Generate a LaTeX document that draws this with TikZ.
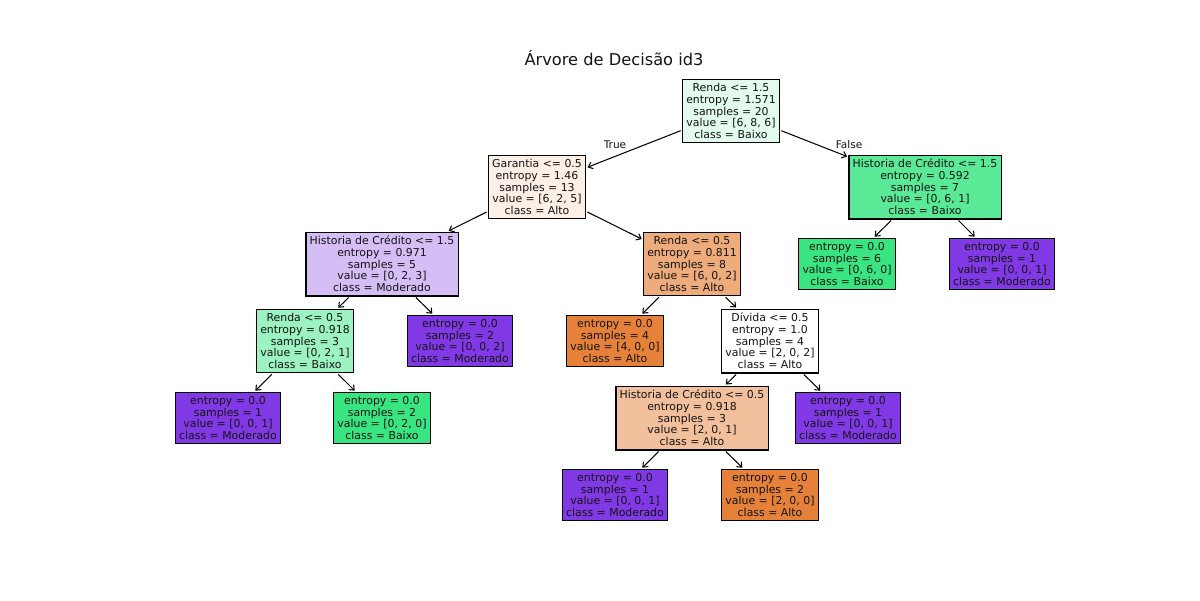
\documentclass[tikz,border=0pt]{standalone}
\usepackage{fontspec}
\setmainfont{DejaVu Sans}
\usetikzlibrary{arrows.meta}
\definecolor{cAlto}{RGB}{229,129,57}
\definecolor{cBaixo}{RGB}{57,229,129}
\definecolor{cMod}{RGB}{129,57,229}
\definecolor{cRoot}{RGB}{227,251,237}
\definecolor{cGar}{RGB}{252,239,230}
\definecolor{cHistL}{RGB}{213,189,246}
\definecolor{cRendaO}{RGB}{238,171,123}
\definecolor{cHistR}{RGB}{90,233,150}
\definecolor{cRendaG}{RGB}{156,242,192}
\definecolor{cHistO}{RGB}{242,192,156}
\definecolor{txt}{RGB}{20,20,20}
\tikzset{
  tnode/.style={draw=black, line width=0.8pt, align=center, inner xsep=2.7pt, inner ysep=3.0pt,
    font=\fontsize{7.85}{8.4}\selectfont, text=txt},
  edge/.style={line width=0.75pt, -{Straight Barb[length=3pt,width=5pt]}, shorten >=1pt, shorten <=1pt},
  elabel/.style={font=\fontsize{7.6}{8.4}\selectfont, text=txt}
}
\begin{document}
\begin{tikzpicture}[x=0.72pt,y=-0.72pt]
\useasboundingbox (0,0) rectangle (1200,600);
\node[font=\fontsize{11.7}{14}\selectfont, text=txt] (title) at (614,58) {Árvore de Decisão id3};

\node[tnode, fill=cRoot] (root) at (731,111) {Renda <= 1.5\\entropy = 1.571\\samples = 20\\value = [6, 8, 6]\\class = Baixo};
\node[tnode, fill=cGar] (gar) at (537,187) {Garantia <= 0.5\\entropy = 1.46\\samples = 13\\value = [6, 2, 5]\\class = Alto};
\node[tnode, fill=cHistR] (histr) at (925,187) {Historia de Crédito <= 1.5\\entropy = 0.592\\samples = 7\\value = [0, 6, 1]\\class = Baixo};
\node[tnode, fill=cHistL] (histl) at (382,264) {Historia de Crédito <= 1.5\\entropy = 0.971\\samples = 5\\value = [0, 2, 3]\\class = Moderado};
\node[tnode, fill=cRendaO] (rendao) at (692,264) {Renda <= 0.5\\entropy = 0.811\\samples = 8\\value = [6, 0, 2]\\class = Alto};
\node[tnode, fill=cBaixo] (lb6) at (847,264) {entropy = 0.0\\samples = 6\\value = [0, 6, 0]\\class = Baixo};
\node[tnode, fill=cMod] (lm1a) at (1002,264) {entropy = 0.0\\samples = 1\\value = [0, 0, 1]\\class = Moderado};
\node[tnode, fill=cRendaG] (rendag) at (305,341) {Renda <= 0.5\\entropy = 0.918\\samples = 3\\value = [0, 2, 1]\\class = Baixo};
\node[tnode, fill=cMod] (lm2) at (460,341) {entropy = 0.0\\samples = 2\\value = [0, 0, 2]\\class = Moderado};
\node[tnode, fill=cAlto] (la4) at (615,341) {entropy = 0.0\\samples = 4\\value = [4, 0, 0]\\class = Alto};
\node[tnode, fill=white] (div) at (770,341) {Dívida <= 0.5\\entropy = 1.0\\samples = 4\\value = [2, 0, 2]\\class = Alto};
\node[tnode, fill=cMod] (lm1b) at (228,418) {entropy = 0.0\\samples = 1\\value = [0, 0, 1]\\class = Moderado};
\node[tnode, fill=cBaixo] (lb2) at (382,418) {entropy = 0.0\\samples = 2\\value = [0, 2, 0]\\class = Baixo};
\node[tnode, fill=cHistO] (histo) at (692,418) {Historia de Crédito <= 0.5\\entropy = 0.918\\samples = 3\\value = [2, 0, 1]\\class = Alto};
\node[tnode, fill=cMod] (lm1c) at (848,418) {entropy = 0.0\\samples = 1\\value = [0, 0, 1]\\class = Moderado};
\node[tnode, fill=cMod] (lm1d) at (615,495) {entropy = 0.0\\samples = 1\\value = [0, 0, 1]\\class = Moderado};
\node[tnode, fill=cAlto] (la2) at (770,495) {entropy = 0.0\\samples = 2\\value = [2, 0, 0]\\class = Alto};

\draw[edge] (root) -- (gar);
\draw[edge] (root) -- (histr);
\draw[edge] (gar) -- (histl);
\draw[edge] (gar) -- (rendao);
\draw[edge] (histr) -- (lb6);
\draw[edge] (histr) -- (lm1a);
\draw[edge] (histl) -- (rendag);
\draw[edge] (histl) -- (lm2);
\draw[edge] (rendao) -- (la4);
\draw[edge] (rendao) -- (div);
\draw[edge] (rendag) -- (lm1b);
\draw[edge] (rendag) -- (lb2);
\draw[edge] (div) -- (histo);
\draw[edge] (div) -- (lm1c);
\draw[edge] (histo) -- (lm1d);
\draw[edge] (histo) -- (la2);

\node[elabel] (ltrue) at (615,145) {True};
\node[elabel] (lfalse) at (849,145) {False};
\end{tikzpicture}
\end{document}
